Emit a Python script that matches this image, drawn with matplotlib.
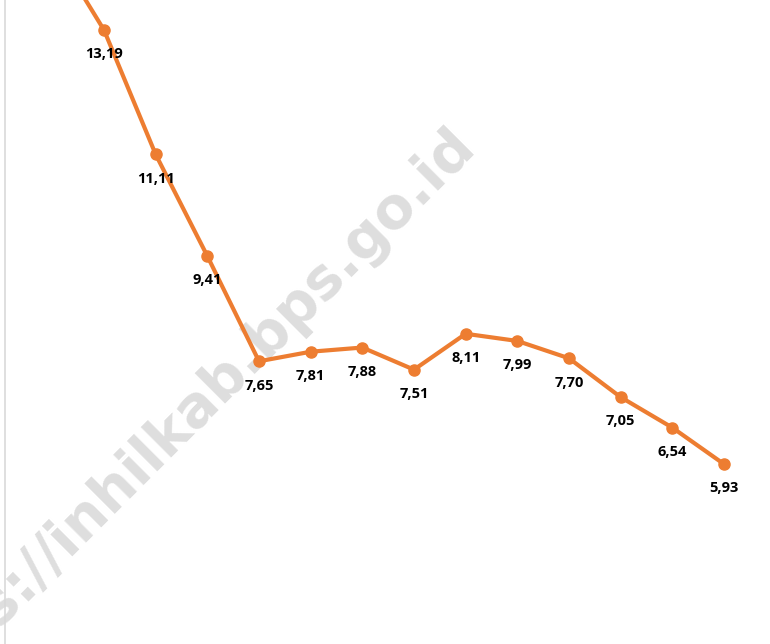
import matplotlib.pyplot as plt

# Data
values = [14.60, 13.19, 11.11, 9.41, 7.65, 7.81, 7.88, 7.51, 8.11, 7.99, 7.70, 7.05, 6.54, 5.93]
labels = ['14,60', '13,19', '11,11', '9,41', '7,65', '7,81', '7,88', '7,51', '8,11', '7,99', '7,70', '7,05', '6,54', '5,93']
positions = list(range(len(values)))

fig = plt.figure(figsize=(7.7, 6.44), dpi=100)
ax = fig.add_axes([5 / 770, 0, 765 / 770, 1])

# Watermark (behind the data)
ax.text(0.232, 0.342, 'https://inhilkab.bps.go.id', transform=fig.transFigure,
        rotation=45, rotation_mode='anchor', ha='center', va='center',
        fontsize=41, fontweight='bold', color='#dedede', zorder=1,
        family='DejaVu Sans')

# Line with markers
ax.plot(positions, values, color='#ED7D31', linewidth=3, marker='o',
        markersize=8, zorder=3)

# Data labels below points
for x, v, lab in zip(positions, values, labels):
    ax.annotate(lab, (x, v), xytext=(0, -17.5), textcoords='offset points',
                ha='center', va='center', fontsize=10.5, fontweight='bold',
                family='Open Sans', color='black', zorder=4)

# Cropped view
ax.set_xlim(-0.916, 13.89)
ax.set_ylim(2.922, 13.692)
ax.set_xticks([])
ax.set_yticks([])
for side in ['top', 'right', 'bottom']:
    ax.spines[side].set_visible(False)
ax.spines['left'].set_color('#d9d9d9')
ax.spines['left'].set_linewidth(1.2)

plt.savefig('out.png', dpi=100)
